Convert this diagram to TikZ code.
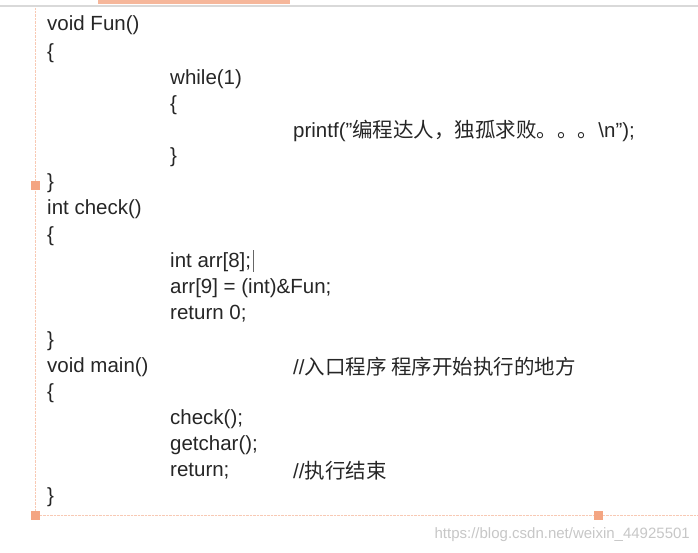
\documentclass[tikz,border=0pt]{standalone}
\usepackage{fontspec}
\setmainfont{Liberation Sans}
\newfontfamily\cjk{Noto Sans CJK SC}
\definecolor{org}{HTML}{F4A582}
\begin{document}
\begin{tikzpicture}[x=1pt,y=-1pt,
  code/.style={anchor=west,inner sep=0pt,font=\fontsize{20.5}{20.5}\selectfont,text=black!85},
  sqmark/.style={fill=org,draw=none,minimum size=9pt,inner sep=0pt}]
\useasboundingbox (0,0) rectangle (698,553);
\fill[white] (0,0) rectangle (698,553);
\fill[org!80] (98,0) rectangle (290,4);
\draw[black!15,line width=1.5pt] (0,6) -- (698,6);
\coordinate (vt) at (35,8);
\coordinate (hr) at (698,515);
\node[sqmark] (m1) at (35,186) {};
\node[sqmark] (m2) at (35,515) {};
\node[sqmark] (m3) at (598,515) {};
\draw[org!60,densely dotted] (vt) -- (m1) -- (m2) -- (m3) -- (hr);
\begin{scope}[yshift=-3pt]
\node[code] (l1) at (47,22) {void Fun()};
\node[code] (l2) at (47,50) {\{};
\node[code] (l3) at (170,76) {while(1)};
\node[code] (l4) at (170,102) {\{};
\node[code] (l5) at (293,128) {printf(\symbol{34}{\cjk 编程达人，独孤求败。。。}\textbackslash n\symbol{34});};
\node[code] (l6) at (170,154) {\}};
\node[code] (l7) at (47,180) {\}};
\node[code] (l8) at (47,206) {int check()};
\node[code] (l9) at (47,233) {\{};
\node[code] (l10) at (170,259) {int arr[8];};
\draw[black!60,line width=0.6pt] (l10.north east) ++(2,-2) -- ++(0,22);
\node[code] (l11) at (170,285) {arr[9] = (int)\&Fun;};
\node[code] (l12) at (170,311) {return 0;};
\node[code] (l13) at (47,338) {\}};
\node[code] (l14) at (47,364) {void main()};
\node[code] (c1) at (293,364) {//{\cjk 入口程序 程序开始执行的地方}};
\node[code] (l15) at (47,390) {\{};
\node[code] (l16) at (170,416) {check();};
\node[code] (l17) at (170,442) {getchar();};
\node[code] (l18) at (170,468) {return;};
\node[code] (c2) at (293,468) {//{\cjk 执行结束}};
\node[code] (l19) at (47,494) {\}};
\end{scope}
\node[anchor=east,inner sep=0pt,font=\fontsize{15}{15}\selectfont,text=black!22] (wm) at (690,535) {https://blog.csdn.net/weixin\_44925501};
\end{tikzpicture}
\end{document}
